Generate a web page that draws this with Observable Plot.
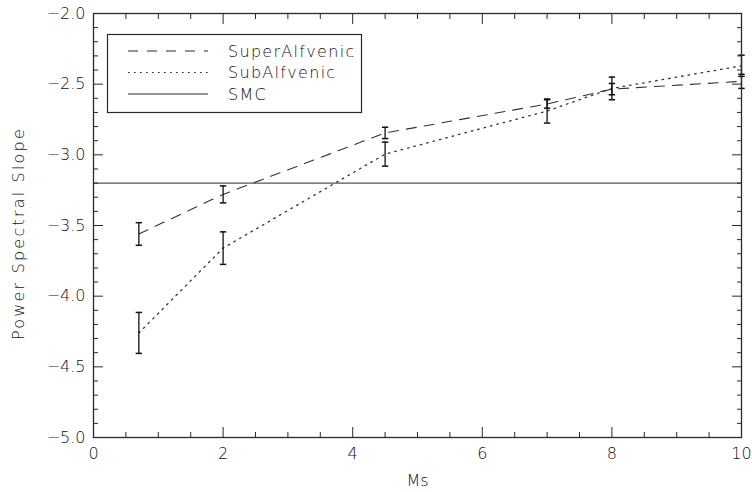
<!DOCTYPE html>
<html><head><meta charset="utf-8">
<script src="https://cdn.jsdelivr.net/npm/d3@7"></script>
<script src="https://cdn.jsdelivr.net/npm/@observablehq/plot@0.6"></script>
<style>body{margin:0;background:#fff} svg{display:block}</style>
</head><body><div id="chart"></div>
<script>
// ---- data ----
const ms = [0.7, 2, 4.5, 7, 8, 10];
const superY = [-3.56, -3.28, -2.845, -2.64, -2.535, -2.48];
const superErr = [0.08, 0.06, 0.04, 0.03, 0.04, 0.05];
const subY = [-4.26, -3.66, -2.995, -2.69, -2.53, -2.37];
const subErr = [0.145, 0.115, 0.085, 0.085, 0.08, 0.075];
const smcY = -3.2;
const seriesNames = ["SuperAlfvenic", "SubAlfvenic", "SMC"];
const xMajor = [0, 2, 4, 6, 8, 10];
const yMajor = [-5.0, -4.5, -4.0, -3.5, -3.0, -2.5, -2.0];
const xLabel = "Ms";
const yLabel = "Power Spectral Slope";

const xMinor = d3.range(0, 10.001, 0.5).filter(v => Math.abs(v / 2 - Math.round(v / 2)) > 1e-6);
const yMinor = d3.range(-5, -1.999, 0.1).map(v => +v.toFixed(1)).filter(v => Math.abs(v * 2 - Math.round(v * 2)) > 1e-6);

const rows = [];
ms.forEach((m, i) => {
  rows.push({ms: m, y: superY[i], err: superErr[i], series: seriesNames[0]});
  rows.push({ms: m, y: subY[i], err: subErr[i], series: seriesNames[1]});
});
const superRows = rows.filter(d => d.series === seriesNames[0]);
const subRows = rows.filter(d => d.series === seriesNames[1]);

const ink = "#2a2a2a";
const textInk = "#111";
const font = "'DejaVu Sans', sans-serif";
const capSymbol = {draw(ctx, size) { const w = Math.sqrt(size / Math.PI); ctx.moveTo(-w, 0); ctx.lineTo(w, 0); }};
const blank = () => "";

const legendItems = [
  {name: seriesNames[0], dash: "10,9"},
  {name: seriesNames[1], dash: "1.6,4.4"},
  {name: seriesNames[2], dash: null}
];

function legendMark(index, scales, values, dims) {
  const g = d3.create("svg:g");
  g.append("rect").attr("x", 107.5).attr("y", 34.5).attr("width", 254).attr("height", 78)
    .attr("fill", "white").attr("stroke", ink).attr("stroke-width", 1.2);
  legendItems.forEach((it, i) => {
    const yy = 51 + i * 21.5;
    const ln = g.append("line").attr("x1", 128).attr("x2", 208).attr("y1", yy).attr("y2", yy)
      .attr("stroke", ink).attr("stroke-width", 1.1);
    if (it.dash) ln.attr("stroke-dasharray", it.dash);
    g.append("text").attr("x", 228).attr("y", yy).attr("dy", "0.36em")
      .attr("text-anchor", "start").attr("letter-spacing", "1.3px")
      .attr("fill", textInk).attr("font-family", font).attr("font-weight", 300).attr("font-size", 16).text(it.name);
  });
  return g.node();
}

const chart = Plot.plot({
  width: 752,
  height: 492,
  marginLeft: 93,
  marginRight: 11,
  marginTop: 13,
  marginBottom: 55,
  style: {fontFamily: font, color: ink, background: "white", fontWeight: 300},
  x: {domain: [0, 10]},
  y: {domain: [-5, -2]},
  marks: [
    // SMC reference
    Plot.ruleY([smcY], {stroke: "#555", strokeWidth: 1.3}),
    // series lines
    Plot.line(superRows, {x: "ms", y: "y", stroke: "#333", strokeWidth: 1.1, strokeDasharray: "10,8"}),
    Plot.line(subRows, {x: "ms", y: "y", stroke: "#333", strokeWidth: 1.3, strokeDasharray: "1.6,5"}),
    // error bars
    Plot.ruleX(rows, {x: "ms", y1: d => d.y - d.err, y2: d => d.y + d.err, stroke: "#111", strokeWidth: 1.3}),
    Plot.dot(rows, {x: "ms", y: d => d.y - d.err, symbol: capSymbol, r: 3.2, stroke: "#111", fill: "none", strokeWidth: 1.5}),
    Plot.dot(rows, {x: "ms", y: d => d.y + d.err, symbol: capSymbol, r: 3.2, stroke: "#111", fill: "none", strokeWidth: 1.5}),
    // axes: major/minor ticks on all four sides, pointing inward
    Plot.axisY(yMajor, {anchor: "left", tickSize: -10, tickPadding: 18, tickFormat: d3.format(".1f"), fontSize: 16,
      label: null, stroke: ink, fill: textInk}),
    Plot.axisY(yMinor, {anchor: "left", tickSize: -5, tickFormat: blank, label: null, stroke: ink}),
    Plot.axisY(yMajor, {anchor: "right", tickSize: -10, tickFormat: blank, label: null, stroke: ink}),
    Plot.axisY(yMinor, {anchor: "right", tickSize: -5, tickFormat: blank, label: null, stroke: ink}),
    Plot.axisX(xMajor, {anchor: "bottom", tickSize: -10, tickPadding: 20, tickFormat: d3.format("d"), fontSize: 16,
      label: null, stroke: ink, fill: textInk}),
    Plot.axisX(xMinor, {anchor: "bottom", tickSize: -5, tickFormat: blank, label: null, stroke: ink}),
    Plot.axisX(xMajor, {anchor: "top", tickSize: -10, tickFormat: blank, label: null, stroke: ink}),
    Plot.axisX(xMinor, {anchor: "top", tickSize: -5, tickFormat: blank, label: null, stroke: ink}),
    // axis titles
    Plot.text([yLabel], {frameAnchor: "left", dx: -75, dy: 8, rotate: -90, text: d => d, fontSize: 16,
      fill: textInk, textAnchor: "middle", lineAnchor: "middle"}),
    Plot.text([xLabel], {frameAnchor: "bottom", dy: 43, text: d => d, fontSize: 16,
      fill: textInk, textAnchor: "middle", lineAnchor: "middle"}),
    Plot.frame({stroke: ink, strokeWidth: 1.3}),
    legendMark
  ]
});
chart.querySelectorAll("text").forEach(t => {
  const s = t.textContent;
  if (s === yLabel) t.setAttribute("letter-spacing", "2.2px");
});
document.getElementById("chart").append(chart);
</script>
</body></html>
